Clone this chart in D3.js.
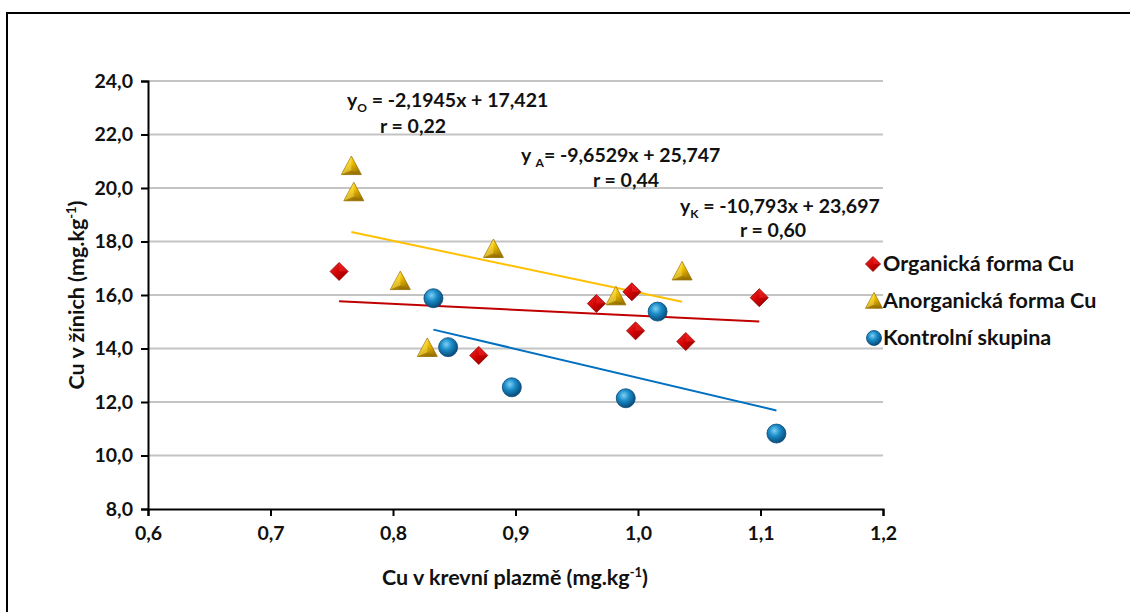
<!DOCTYPE html>
<html>
<head>
<meta charset="utf-8">
<script src="https://cdn.jsdelivr.net/npm/d3@7"></script>
<style>
html,body{margin:0;padding:0;background:#fff;}
svg{display:block;}
text{font-family:Lato,"Open Sans",sans-serif;font-weight:bold;fill:#111;}
</style>
</head>
<body>
<svg id="chart" width="1130" height="612"></svg>
<script>
// ---- data ----
const seriesNames = ["Organická forma Cu", "Anorganická forma Cu", "Kontrolní skupina"];
const organicX = [0.756, 0.870, 0.966, 0.995, 0.998, 1.039, 1.099];
const organicY = [16.88, 13.74, 15.68, 16.12, 14.66, 14.26, 15.90];
const anorgX   = [0.766, 0.768, 0.882, 0.806, 0.828, 0.982, 1.036];
const anorgY   = [20.82, 19.84, 17.72, 16.52, 14.02, 15.95, 16.88];
const controlX = [0.833, 0.845, 0.897, 0.990, 1.016, 1.113];
const controlY = [15.88, 14.05, 12.55, 12.14, 15.38, 10.82];
const trendSlope     = [-2.1945, -9.6529, -10.793];
const trendIntercept = [17.421, 25.747, 23.697];
const eqLabels = ["-2,1945x + 17,421", "-9,6529x + 25,747", "-10,793x + 23,697"];
const rLabels  = ["r = 0,22", "r = 0,44", "r = 0,60"];
const xTicks = [0.6, 0.7, 0.8, 0.9, 1.0, 1.1, 1.2];
const yTicks = [8, 10, 12, 14, 16, 18, 20, 22, 24];
const xTickLabels = ["0,6","0,7","0,8","0,9","1,0","1,1","1,2"];
const yTickLabels = ["8,0","10,0","12,0","14,0","16,0","18,0","20,0","22,0","24,0"];

const svg = d3.select("#chart");
const x = d3.scaleLinear().domain([0.6, 1.2]).range([148, 883]);
const y = d3.scaleLinear().domain([8, 24]).range([509, 81]);

// outer frame
svg.append("rect").attr("x", 7).attr("y", 13).attr("width", 1140).attr("height", 620)
  .attr("fill", "none").attr("stroke", "#000").attr("stroke-width", 2);

// gradients
const defs = svg.append("defs");
const rg = defs.append("radialGradient").attr("id", "gBlue").attr("cx", "40%").attr("cy", "35%").attr("r", "65%");
rg.append("stop").attr("offset", "0%").attr("stop-color", "#7fd0f5");
rg.append("stop").attr("offset", "45%").attr("stop-color", "#1a8cc8");
rg.append("stop").attr("offset", "100%").attr("stop-color", "#0a4a78");
const dg = defs.append("linearGradient").attr("id", "gRed").attr("x1", "0").attr("y1", "0").attr("x2", "1").attr("y2", "1");
dg.append("stop").attr("offset", "0%").attr("stop-color", "#f03030");
dg.append("stop").attr("offset", "50%").attr("stop-color", "#d00000");
dg.append("stop").attr("offset", "100%").attr("stop-color", "#800000");
const tg = defs.append("linearGradient").attr("id", "gGold").attr("x1", "0").attr("y1", "0").attr("x2", "0.6").attr("y2", "1");
tg.append("stop").attr("offset", "0%").attr("stop-color", "#ffe870");
tg.append("stop").attr("offset", "50%").attr("stop-color", "#f0c000");
tg.append("stop").attr("offset", "100%").attr("stop-color", "#a07800");

// gridlines
svg.append("g").selectAll("line").data(yTicks.filter(d => d !== 8)).join("line")
  .attr("x1", x(0.6)).attr("x2", x(1.2))
  .attr("y1", d => y(d)).attr("y2", d => y(d))
  .attr("stroke", "#c4c4c4").attr("stroke-width", 2);

// axes
const yAxis = d3.axisLeft(y).tickValues(yTicks).tickSize(7).tickFormat((d, i) => yTickLabels[i]);
const gy = svg.append("g").attr("transform", `translate(${x(0.6)},0)`).call(yAxis);
gy.select(".domain").attr("stroke", "#000").attr("stroke-width", 2);
gy.selectAll(".tick line").attr("stroke", "#000").attr("stroke-width", 2);
gy.selectAll(".tick text").attr("x", -15).attr("font-size", 19.5).attr("fill", "#111").attr("font-family", "Lato").attr("font-weight", "bold");

const xAxis = d3.axisBottom(x).tickValues(xTicks).tickSize(7).tickFormat((d, i) => xTickLabels[i]);
const gx = svg.append("g").attr("transform", `translate(0,${y(8)})`).call(xAxis);
gx.select(".domain").attr("stroke", "#000").attr("stroke-width", 2);
gx.selectAll(".tick line").attr("stroke", "#000").attr("stroke-width", 2);
gx.selectAll(".tick text").attr("y", 17).attr("font-size", 19.5).attr("fill", "#111").attr("font-family", "Lato").attr("font-weight", "bold");

// axis titles
const xt = svg.append("text").attr("x", 515).attr("y", 585).attr("text-anchor", "middle").attr("font-size", 21.5);
xt.append("tspan").text("Cu v krevní plazmě (mg.kg");
xt.append("tspan").attr("dy", -8).attr("font-size", 13).text("-1");
xt.append("tspan").attr("dy", 8).text(")");

const yt = svg.append("text").attr("transform", "translate(84,295) rotate(-90)").attr("text-anchor", "middle").attr("font-size", 21.5);
yt.append("tspan").text("Cu v žínich (mg.kg");
yt.append("tspan").attr("dy", -8).attr("font-size", 13).text("-1");
yt.append("tspan").attr("dy", 8).text(")");

// trend lines
const seriesX = [organicX, anorgX, controlX];
const trendColors = ["#c00000", "#ffc000", "#0070c0"];
seriesX.forEach((xs, i) => {
  const x0 = d3.min(xs), x1 = d3.max(xs);
  svg.append("line")
    .attr("x1", x(x0)).attr("y1", y(trendIntercept[i] + trendSlope[i] * x0))
    .attr("x2", x(x1)).attr("y2", y(trendIntercept[i] + trendSlope[i] * x1))
    .attr("stroke", trendColors[i]).attr("stroke-width", 2);
});

// marker drawers
function diamond(g, cx, cy, s) {
  g.append("path").attr("d", `M${cx},${cy - s}L${cx + s},${cy}L${cx},${cy + s}L${cx - s},${cy}Z`)
    .attr("fill", "url(#gRed)").attr("stroke", "#900000").attr("stroke-width", 0.8);
  g.append("path").attr("d", `M${cx},${cy - s}L${cx + s},${cy}L${cx},${cy}Z`).attr("fill", "#ff4040").attr("opacity", 0.35);
}
function triangle(g, cx, cy, s) {
  const h = s * 1.0;
  g.append("path").attr("d", `M${cx},${cy - h}L${cx + s},${cy + h * 0.85}L${cx - s},${cy + h * 0.85}Z`)
    .attr("fill", "url(#gGold)").attr("stroke", "#9a7400").attr("stroke-width", 0.8);
  g.append("path").attr("d", `M${cx},${cy - h}L${cx},${cy + h * 0.45}L${cx - s},${cy + h * 0.85}Z`).attr("fill", "#fff080").attr("opacity", 0.35);
  g.append("path").attr("d", `M${cx - s},${cy + h * 0.85}L${cx},${cy + h * 0.45}L${cx + s},${cy + h * 0.85}Z`).attr("fill", "#8a6500").attr("opacity", 0.45);
}
function sphere(g, cx, cy, r) {
  g.append("circle").attr("cx", cx).attr("cy", cy).attr("r", r)
    .attr("fill", "url(#gBlue)").attr("stroke", "#0a4a78").attr("stroke-width", 0.8);
}

const gm = svg.append("g");
organicX.forEach((d, i) => diamond(gm, x(d), y(organicY[i]), 9));
anorgX.forEach((d, i) => triangle(gm, x(d), y(anorgY[i]), 10));
controlX.forEach((d, i) => sphere(gm, x(d), y(controlY[i]), 9.5));

// legend
const legY = [264, 301, 338];
const lg = svg.append("g");
diamond(lg, 873, legY[0], 7.5);
triangle(lg, 874, legY[1], 8.5);
sphere(lg, 874, legY[2], 7.5);
seriesNames.forEach((n, i) => {
  lg.append("text").attr("x", 883).attr("y", legY[i] + 7).attr("font-size", 21.5).text(n);
});

// equation annotations
const eqPos = [[347, 107], [521, 162], [680, 213]];
const rPos = [[413, 133], [626, 187], [773, 237]];
const subs = ["O", "A", "K"];
eqPos.forEach((p, i) => {
  const t = svg.append("text").attr("x", p[0]).attr("y", p[1]).attr("font-size", 19.5);
  t.append("tspan").text(i === 1 ? "y " : "y");
  t.append("tspan").attr("dy", 5).attr("font-size", 12).text(subs[i]);
  t.append("tspan").attr("dy", -5).text((i === 1 ? "" : " ") + "= " + eqLabels[i]);
  svg.append("text").attr("x", rPos[i][0]).attr("y", rPos[i][1]).attr("text-anchor", "middle").attr("font-size", 19.5).text(rLabels[i]);
});
</script>
</body>
</html>
